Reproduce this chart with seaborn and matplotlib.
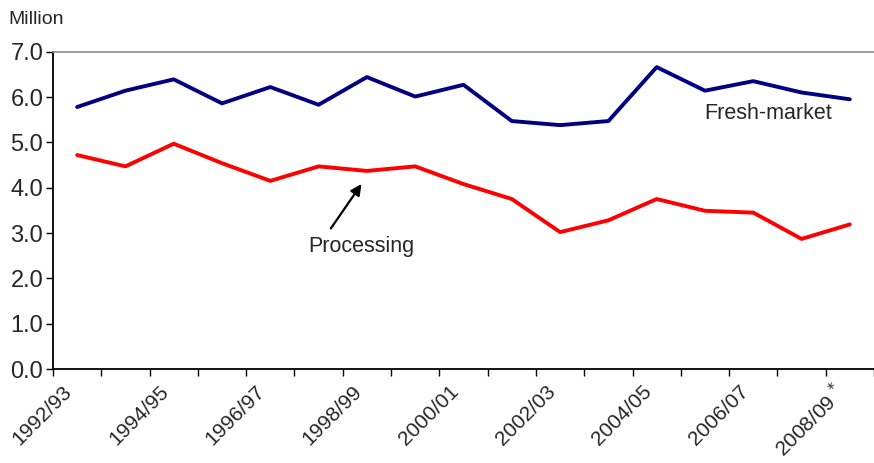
"""plot.py — fresh-market vs processing volumes by season."""

import matplotlib
matplotlib.use("Agg")
import matplotlib.pyplot as plt
import matplotlib.transforms as mtransforms
import numpy as np
import pandas as pd
import seaborn as sns

# -------------------------------------------------------------------------
# Data
# -------------------------------------------------------------------------
seasons = [
    "1992/93", "1993/94", "1994/95", "1995/96", "1996/97", "1997/98",
    "1998/99", "1999/00", "2000/01", "2001/02", "2002/03", "2003/04",
    "2004/05", "2005/06", "2006/07", "2007/08", "2008/09$^{\\,*}$",
]
fresh_market = [5.78, 6.14, 6.39, 5.86, 6.22, 5.83, 6.44, 6.01, 6.27,
                5.47, 5.38, 5.47, 6.66, 6.14, 6.35, 6.10, 5.95]
processing = [4.72, 4.47, 4.97, 4.54, 4.15, 4.47, 4.37, 4.47, 4.08,
              3.75, 3.02, 3.28, 3.75, 3.49, 3.45, 2.87, 3.19]
series_names = ["Fresh-market", "Processing"]
series_colors = ["#000080", "#FF0000"]
y_ticks = [0, 1, 2, 3, 4, 5, 6, 7]

# -------------------------------------------------------------------------
# Styling
# -------------------------------------------------------------------------
sns.set_style("white")
plt.rcParams["font.family"] = ["Liberation Sans", "DejaVu Sans"]

df = pd.DataFrame({
    "idx": np.tile(np.arange(len(seasons)), 2),
    "value": fresh_market + processing,
    "series": np.repeat(series_names, len(seasons)),
})

fig = plt.figure(figsize=(8.74, 4.63), dpi=100)
ax = fig.add_axes([53 / 874, 1 - 369 / 463, 1 - 53 / 874, (369 - 51.7) / 463])

sns.lineplot(
    data=df, x="idx", y="value", hue="series",
    palette=dict(zip(series_names, series_colors)),
    linewidth=2.8, legend=False, ax=ax,
)

ax.set_xlim(-0.5, 16.32)
ax.set_ylim(0, 7)
ax.set_xlabel("")
ax.set_ylabel("")

# y axis
ax.set_yticks(y_ticks)
ax.set_yticklabels([f"{v:.1f}" for v in y_ticks], fontsize=17)
ax.tick_params(axis="y", direction="out", length=5, width=1, color="black",
               left=True, pad=2)

# x axis: tick marks at category boundaries, labels on every other season
ax.set_xticks(np.arange(-0.5, len(seasons), 1.0), minor=True)
ax.set_xticks(np.arange(0, len(seasons), 2))
ax.set_xticklabels(seasons[::2], fontsize=15, rotation=45,
                   ha="right", va="center", rotation_mode="anchor")
ax.tick_params(axis="x", which="minor", direction="out", length=5, width=1,
               color="black", bottom=True)
ax.tick_params(axis="x", which="major", length=0, pad=14)
shift = mtransforms.ScaledTranslation(-8 / 100, 0, fig.dpi_scale_trans)
for lbl in ax.get_xticklabels():
    lbl.set_transform(lbl.get_transform() + shift)

for side in ("left", "bottom"):
    ax.spines[side].set_color("black")
    ax.spines[side].set_linewidth(1.3)
ax.spines["top"].set_color("#8c8c8c")
ax.spines["top"].set_linewidth(1.2)
ax.spines["right"].set_visible(False)
ax.grid(False)

# annotations
ax.text(14.3, 5.64, "Fresh-market", fontsize=15.5, ha="center", va="center")
ax.text(5.88, 2.70, "Processing", fontsize=15.5, ha="center", va="center")
ax.annotate(
    "", xy=(5.92, 4.13), xytext=(5.22, 3.05),
    arrowprops=dict(arrowstyle="-|>", color="black", lw=1.6, mutation_scale=16),
)

fig.text(8 / 874, 1 - 20 / 463, "Million", fontsize=14, ha="left", va="center")

fig.savefig("out.png", dpi=100)
plt.close(fig)
